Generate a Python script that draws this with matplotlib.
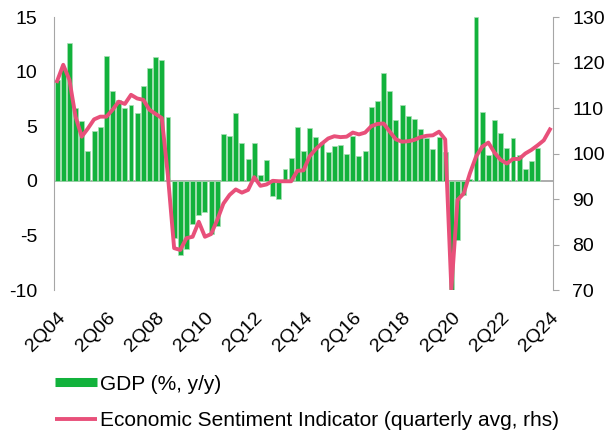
import matplotlib
matplotlib.use("Agg")
import matplotlib.pyplot as plt
from matplotlib.lines import Line2D
import numpy as np

plt.rcParams['font.family'] = ['Liberation Sans', 'DejaVu Sans']
plt.rcParams['axes.unicode_minus'] = False

# quarterly data, 2Q04 .. 2Q24
gdp = [9.2, 10.2, 12.6, 6.7, 5.5, 2.75, 4.6, 4.9, 11.4, 8.2, 7.4, 6.7, 6.9, 6.2, 8.7, 10.3, 11.3, 11.05, 5.8,
       -5.2, -6.8, -6.2, -4.0, -3.1, -2.9, -4.9, -4.1,
       4.3, 4.1, 6.2, 3.5, 2.0, 3.5, 0.5, 1.9,
       -1.4, -1.7, 1.1, 2.1, 4.9, 2.7, 4.8, 4.0, 3.6, 2.6, 3.2, 3.3, 2.5, 4.1,
       2.3, 2.7, 6.8, 7.3, 9.9, 8.2, 5.6, 6.9, 5.9, 5.7, 4.7, 3.9, 2.9, 4.0, 2.6,
       -10.3, -5.4, -1.3, 0.2, 15.0, 6.3, 2.4, 5.6, 4.4, 3.0, 3.9, 2.4, 1.1, 1.8, 3.0]

esi = [115.9, 119.5, 116.2, 108.1, 103.7, 105.5, 107.5, 108.1, 108.1, 109.6, 111.4, 110.9, 112.9, 112.1, 111.8,
       109.6, 108.7, 107.8, 95.0,
       79.2, 78.8, 81.4, 81.7, 85.0, 81.7, 82.3, 85.4, 89.0, 90.9, 92.1, 91.4, 92.0, 94.8, 92.9, 93.2,
       94.0, 93.9, 93.9, 93.9, 96.2, 96.3, 99.4, 101.0, 102.2, 103.3, 103.8, 103.6, 103.7, 104.6, 104.2, 104.6,
       106.0, 106.5, 106.6, 104.8, 103.1, 102.6, 102.7, 103.0, 103.6, 103.9, 104.0, 104.8, 103.1,
       70.2, 89.8, 91.2, 95.6, 99.3, 101.5, 102.4, 100.2, 98.6, 97.8, 98.8, 98.8, 100.0, 100.8, 101.8, 102.9, 105.3]

tick_labels = ['2Q04', '2Q06', '2Q08', '2Q10', '2Q12', '2Q14', '2Q16', '2Q18', '2Q20', '2Q22', '2Q24']

green = '#12b23c'
pink = '#e8507a'
grey = '#a6a6a6'

fig = plt.figure(figsize=(6.04, 4.32), dpi=100)
ax = fig.add_axes([0.0894, 0.3287, 0.8262, 0.6319])
ax2 = ax.twinx()

x_gdp = np.arange(len(gdp))
x_esi = np.arange(len(esi))

ax.bar(x_gdp, gdp, width=0.8, color=green, edgecolor='#a8dfb4', linewidth=0.5, zorder=2)
ax.axhline(0, color=grey, lw=1.3, zorder=1)
ax2.plot(x_esi, esi, color=pink, lw=2.8, solid_joinstyle='round', zorder=3)

ax.set_xlim(-0.5, len(esi) - 0.5)
ax.set_ylim(-10, 15)
ax.set_yticks([-10, -5, 0, 5, 10, 15])
ax2.set_ylim(70, 130)
ax2.set_yticks(np.arange(70, 131, 10))

ax.set_xticks(np.arange(0, len(esi), 8))
ax.set_xticklabels(tick_labels, rotation=45, ha='right', rotation_mode='anchor')

for a in (ax, ax2):
    a.spines['top'].set_visible(False)
    a.spines['bottom'].set_visible(False)
    a.spines['left'].set_color(grey)
    a.spines['right'].set_color(grey)
ax2.spines['left'].set_visible(False)
ax.spines['right'].set_visible(False)

ax.tick_params(axis='x', length=0, pad=14, labelsize=14)
ax.tick_params(axis='y', length=0, pad=12, labelsize=14)
ax2.tick_params(axis='y', length=4, color=grey, pad=10, labelsize=14)

ax.set_zorder(ax2.get_zorder() - 1)
ax.patch.set_visible(True)
ax2.patch.set_visible(False)

handles = [Line2D([0], [0], color=green, lw=6.5, solid_capstyle='butt'),
           Line2D([0], [0], color=pink, lw=2.8, solid_capstyle='butt')]
labels = ['GDP (%, y/y)', 'Economic Sentiment Indicator (quarterly avg, rhs)']
fig.legend(handles, labels, loc='upper left', bbox_to_anchor=(0.091, 0.133), frameon=False,
           fontsize=15, handlelength=2.0, handletextpad=0.15, labelspacing=0.85,
           borderpad=0, borderaxespad=0)

fig.savefig('out.png', dpi=100)
